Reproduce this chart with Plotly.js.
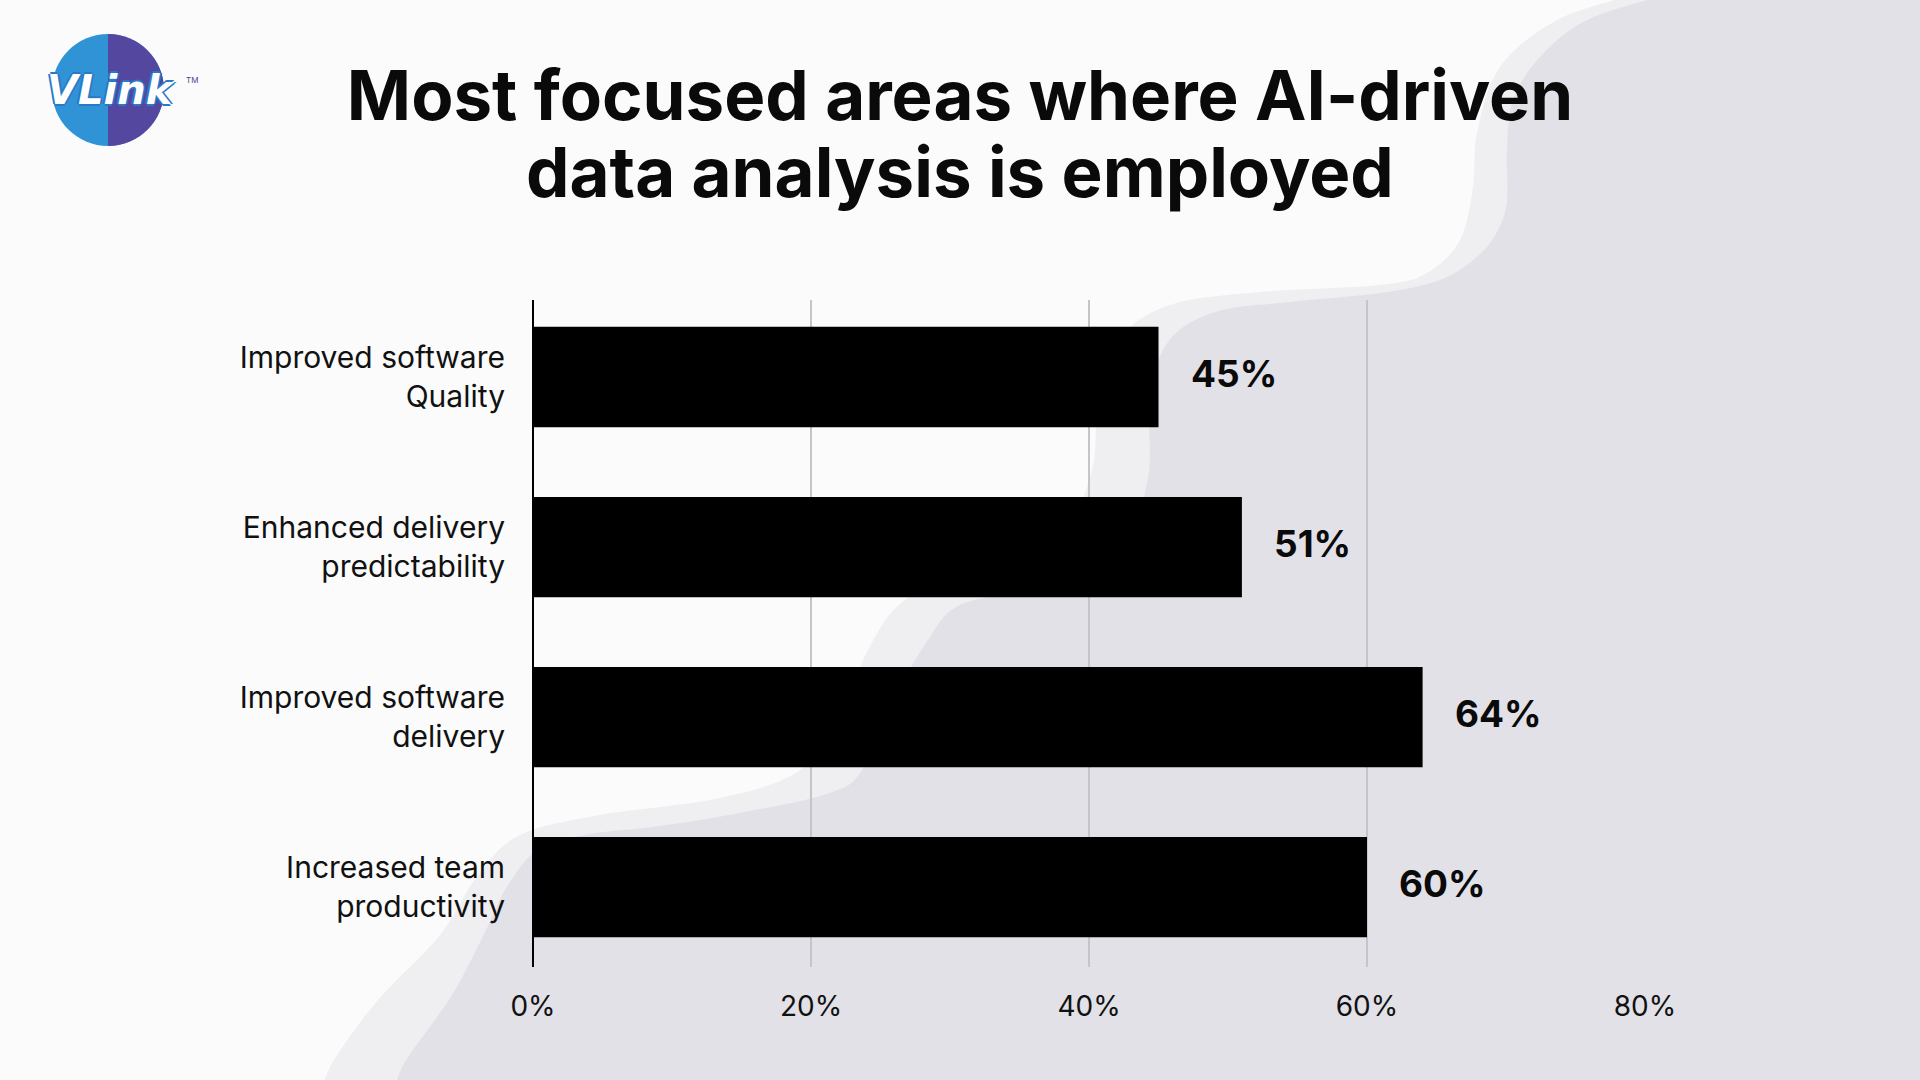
<!DOCTYPE html>
<html>
<head>
<meta charset="utf-8">
<script src="https://cdn.plot.ly/plotly-3.0.1.min.js"></script>
<style>html,body{margin:0;padding:0;background:#fbfbfc;}#chart{width:1920px;height:1080px;}</style>
</head>
<body>
<div id="chart"></div>
<script>
// ---- data ----
const categories = ["Improved software<br>Quality", "Enhanced delivery<br>predictability", "Improved software<br>delivery", "Increased team<br>productivity"];
const shares = [45, 51, 64, 60];
const xTickVals = [0, 20, 40, 60, 80];
const xTickText = ["0%", "20%", "40%", "60%", "80%"];
const titleLine1 = "Most focused areas where AI-driven";
const titleLine2 = "data analysis is employed";

// ---- layout geometry (decoration helpers) ----
const M = {l: 533, r: 275, t: 300, b: 113};
const W = 1920 - M.l - M.r, H = 1080 - M.t - M.b;
const px = x => (x - M.l) / W;
const py = y => (1080 - M.b - y) / H;

function smoothPath(pts, closeCorners) {
  const P = pts.map(p => [px(p[0]), py(p[1])]);
  let d = "M" + P[0][0] + "," + P[0][1];
  for (let i = 0; i < P.length - 1; i++) {
    const p0 = P[Math.max(i - 1, 0)], p1 = P[i], p2 = P[i + 1], p3 = P[Math.min(i + 2, P.length - 1)];
    const c1 = [p1[0] + (p2[0] - p0[0]) / 6, p1[1] + (p2[1] - p0[1]) / 6];
    const c2 = [p2[0] - (p3[0] - p1[0]) / 6, p2[1] - (p3[1] - p1[1]) / 6];
    d += " C" + c1[0] + "," + c1[1] + " " + c2[0] + "," + c2[1] + " " + p2[0] + "," + p2[1];
  }
  closeCorners.forEach(c => { d += " L" + px(c[0]) + "," + py(c[1]); });
  return d + " Z";
}

const bandPts = [[1633,-5],[1557,20],[1500,67],[1477,133],[1473,187],[1460,240],[1427,273],[1380,285],[1260,292],[1170,305],[1118,340],[1098,400],[1092,470],[1060,535],[980,572],[905,600],[868,650],[843,710],[800,770],[720,798],[600,815],[520,835],[478,875],[440,935],[378,1000],[334,1060],[322,1090]];
const greyPts = [[1665,-5],[1587,20],[1540,57],[1513,100],[1507,150],[1507,200],[1498,230],[1478,256],[1440,280],[1380,293],[1290,302],[1215,312],[1168,342],[1150,400],[1148,478],[1122,540],[1040,585],[960,605],[928,640],[890,705],[862,770],[830,793],[745,812],[660,826],[590,834],[540,848],[508,885],[486,930],[452,995],[405,1062],[395,1090]];
const corners = [[1925,1090],[1925,-5]];

// logo geometry
const lc = {x: 108, y: 90, r: 56};
const k = 0.5523 * lc.r;
const halfRight = "M" + px(lc.x) + "," + py(lc.y - lc.r) +
  " C" + px(lc.x + k) + "," + py(lc.y - lc.r) + " " + px(lc.x + lc.r) + "," + py(lc.y - k) + " " + px(lc.x + lc.r) + "," + py(lc.y) +
  " C" + px(lc.x + lc.r) + "," + py(lc.y + k) + " " + px(lc.x + k) + "," + py(lc.y + lc.r) + " " + px(lc.x) + "," + py(lc.y + lc.r) + " Z";

const shapes = [
  {type: "path", xref: "paper", yref: "paper", path: smoothPath(bandPts, corners), fillcolor: "#efeff2", line: {width: 0}, layer: "below"},
  {type: "path", xref: "paper", yref: "paper", path: smoothPath(greyPts, corners), fillcolor: "#e2e1e7", line: {width: 0}, layer: "below"},
  {type: "circle", xref: "paper", yref: "paper", x0: px(lc.x - lc.r), x1: px(lc.x + lc.r), y0: py(lc.y + lc.r), y1: py(lc.y - lc.r), fillcolor: "#2f93d6", line: {width: 0}, layer: "above"},
  {type: "path", xref: "paper", yref: "paper", path: halfRight, fillcolor: "#5b3a97", opacity: 0.85, line: {width: 0}, layer: "above"}
];

const titleFont = {family: "Inter, 'Noto Sans', sans-serif", size: 69, color: "#0a0a0a", weight: 700};

const annotations = categories.map((c, i) => ({
  x: shares[i], y: c, xref: "x", yref: "y", text: shares[i] + "%", showarrow: false,
  xanchor: "left", yanchor: "middle", xshift: 30, yshift: 4,
  font: {family: "Inter, 'Noto Sans', sans-serif", size: 37, color: "#0a0a0a", weight: 700}
}));
annotations.push({
  x: px(960), y: py(172), xref: "paper", yref: "paper", text: titleLine2, showarrow: false,
  xanchor: "center", yanchor: "middle", font: titleFont
});
annotations.push({
  x: px(111), y: py(90), xref: "paper", yref: "paper", text: "<i><b>VLink</b></i>", showarrow: false,
  xanchor: "center", yanchor: "middle",
  font: {family: "'DejaVu Sans', sans-serif", size: 40, color: "#ffffff",
         shadow: "2px 0 0 #2a78c8, -2px 0 0 #2a78c8, 0 2px 0 #2a78c8, 0 -2px 0 #2a78c8"}
});
annotations.push({
  x: px(192), y: py(80), xref: "paper", yref: "paper", text: "TM", showarrow: false,
  xanchor: "center", yanchor: "middle", font: {family: "Inter, sans-serif", size: 8, color: "#5b3a97"}
});

const trace = {
  type: "bar", orientation: "h", x: shares, y: categories,
  marker: {color: "#000000", line: {width: 0}},
  hoverinfo: "none"
};

const layout = {
  width: 1920, height: 1080,
  margin: M,
  paper_bgcolor: "#fbfbfc", plot_bgcolor: "rgba(0,0,0,0)",
  showlegend: false, bargap: 0.41,
  title: {text: titleLine1, x: 0.5, xref: "container", xanchor: "center", y: 1 - 96 / 1080, yref: "container", yanchor: "middle",
          font: titleFont},
  xaxis: {range: [0, 80], tickvals: xTickVals, ticktext: xTickText, showgrid: true, gridcolor: "#c4c4c9", gridwidth: 2,
          zeroline: true, zerolinecolor: "#000000", zerolinewidth: 2.5, showline: false, ticks: "", ticklabelstandoff: 20,
          tickfont: {family: "Inter, 'Noto Sans', sans-serif", size: 28, color: "#111111"}, fixedrange: true},
  yaxis: {type: "category", categoryorder: "array", categoryarray: categories, range: [3.47, -0.453],
          showgrid: false, zeroline: false, showline: false, ticks: "", ticklabelstandoff: 27,
          tickfont: {family: "Inter, 'Noto Sans', sans-serif", size: 30, color: "#111111"}, fixedrange: true},
  shapes: shapes,
  annotations: annotations
};

Plotly.newPlot("chart", [trace], layout, {displayModeBar: false, staticPlot: true});
</script>
</body>
</html>
